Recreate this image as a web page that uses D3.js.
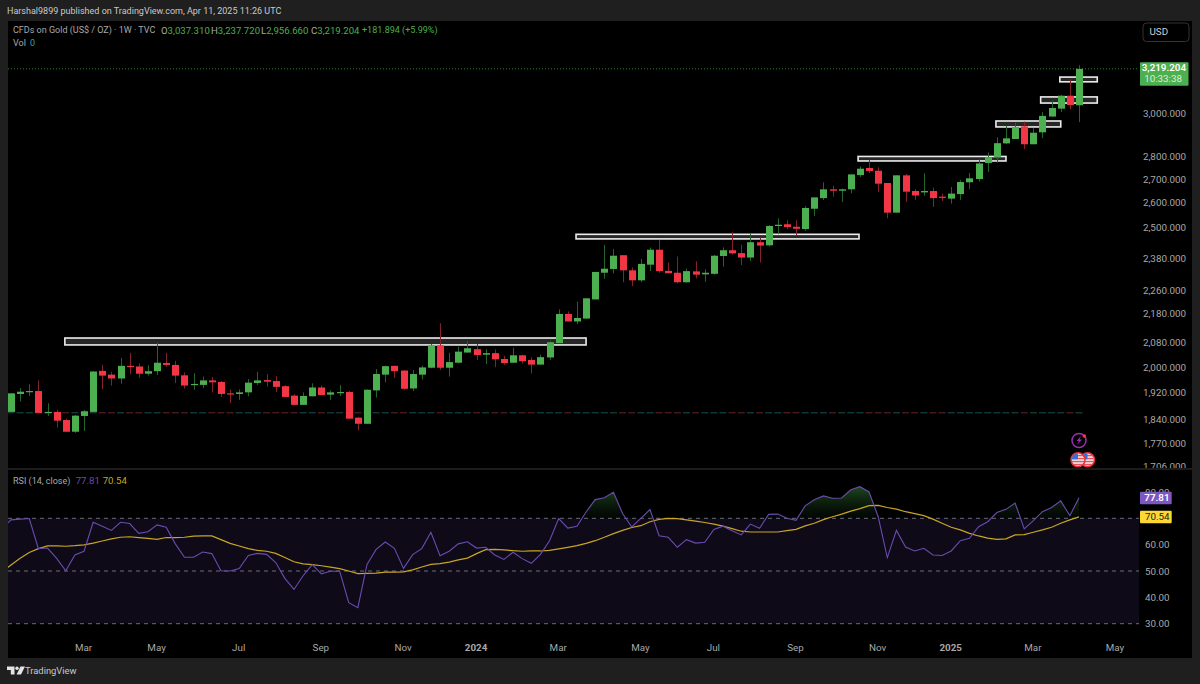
<!DOCTYPE html>
<html><head><meta charset="utf-8">
<script src="https://cdn.jsdelivr.net/npm/d3@7"></script>
<style>
html,body{margin:0;padding:0;background:#1f1f1f;overflow:hidden}
svg{display:block}
text{font-family:Roboto,"Noto Sans",sans-serif}
</style></head><body><div id="chart"></div>
<script>
// ---- data ----
const firstWeek = "2023-01-09";
const opens = [1862,1916,1923,1925,1859,1862,1838,1804,1850,1862,
1988,1976,1964,2004,2002,1979,1987,2013,2007,1974,
1944,1944,1958,1953,1918,1916,1921,1950,1959,1956,
1940,1911,1883,1909,1936,1914,1920,1922,1845,1827,
1927,1976,2004,1989,1933,1976,1998,2071,1998,2014,
2047,2058,2040,2045,2026,2014,2038,2023,2008,2031,
2078,2177,2151,2161,2228,2325,2339,2391,2334,2297,
2355,2412,2332,2325,2290,2330,2319,2321,2388,2410,
2399,2382,2441,2429,2505,2512,2502,2493,2575,2619,
2656,2650,2656,2717,2748,2736,2683,2559,2716,2649,
2643,2649,2625,2617,2636,2686,2700,2770,2796,2858,
2878,2937,2854,2909,2983,3021,3084,3037.31];
const highs = [1918,1934,1946,1958,1888,1868,1842,1853,1868,1987,
2007,1985,2029,2046,2012,2006,2080,2046,2020,1983,
1981,1970,1969,1956,1930,1930,1962,1985,1978,1971,
1943,1915,1921,1949,1942,1927,1944,1925,1847,1930,
1994,2005,2005,1990,1991,2005,2075,2145,2046,2066,
2085,2077,2058,2057,2036,2063,2040,2032,2040,2086,
2193,2186,2220,2232,2328,2431,2415,2391,2345,2377,
2420,2450,2363,2386,2340,2368,2338,2392,2421,2480,
2431,2476,2461,2509,2536,2528,2528,2586,2622,2686,
2671,2659,2720,2755,2786,2751,2683,2716,2722,2657,
2725,2663,2638,2666,2696,2726,2787,2817,2886,2940,
2954,2959,2929,3005,3060,3087,3167,3237.72];
const lows = [1862,1893,1910,1859,1850,1816,1804,1801,1806,1862,
1931,1942,1948,1978,1966,1973,1975,2001,1950,1933,
1929,1934,1921,1907,1889,1898,1909,1944,1939,1922,
1907,1883,1883,1909,1913,1898,1910,1842,1808,1827,
1905,1952,1966,1929,1925,1961,1996,1991,1970,2012,
2047,2023,2010,2000,2007,2014,2012,1980,2008,2023,
2078,2151,2142,2161,2228,2302,2323,2290,2276,2290,
2331,2325,2323,2286,2288,2304,2292,2318,2348,2394,
2354,2369,2363,2424,2473,2493,2469,2486,2545,2611,
2625,2603,2639,2709,2726,2645,2536,2559,2604,2612,
2629,2582,2607,2596,2612,2657,2689,2730,2771,2855,
2878,2832,2854,2882,2983,3005,3017,2956.66];
const closes = [1918,1923,1925,1859,1862,1836,1804,1851,1864,1986,
1973,1964,2004,2000,1979,1987,2014,2007,1973,1942,
1947,1958,1952,1916,1916,1921,1951,1958,1954,1938,
1907,1883,1910,1936,1913,1921,1922,1842,1827,1929,
1978,2003,1987,1932,1978,1999,2071,1998,2016,2050,
2061,2039,2045,2025,2013,2038,2019,2008,2032,2081,
2177,2151,2163,2232,2328,2340,2389,2334,2297,2358,
2412,2331,2323,2290,2331,2318,2325,2389,2410,2398,
2382,2441,2428,2505,2510,2501,2494,2578,2622,2656,
2650,2656,2720,2745,2735,2680,2559,2716,2646,2630,
2649,2619,2621,2638,2687,2703,2768,2796,2859,2881,
2934,2854,2907,2986,3024,3084,3038,3219.204];
const priceTicks = [3000,2800,2700,2600,2500,2380,2260,2180,2080,2000,1920,1840,1770,1706];
// RSI: first value belongs to the week before the first visible candle
const rsiValues = [66.2,69.4,69.7,69.9,58.5,58.7,54.8,50.1,56.1,57.5,68.5,
67.0,65.4,68.5,68.0,64.3,64.9,67.5,66.6,60.3,55.2,
55.2,57.2,56.6,50.1,50.0,50.9,55.9,56.7,56.3,53.2,
47.2,43.0,48.2,52.4,48.9,49.9,50.0,38.0,36.1,52.5,
58.2,61.0,58.6,51.0,56.2,58.5,64.7,55.8,57.5,60.3,
61.1,58.7,59.0,56.1,54.4,57.1,54.7,52.9,56.3,61.5,
69.9,66.3,67.0,72.4,77.1,77.8,79.9,71.8,66.7,70.0,
73.3,63.4,62.8,59.0,61.9,60.6,60.9,65.8,67.0,65.3,
63.7,67.8,66.2,71.5,71.6,70.0,69.2,74.7,77.0,78.5,
77.6,77.7,80.8,82.0,80.0,70.6,55.1,65.4,59.1,57.6,
58.6,56.1,55.9,57.6,61.5,62.4,66.8,68.7,72.2,73.4,
75.8,66.0,69.1,72.5,74.1,76.6,71.0,77.81];
const rsiMa = [49.7,52.3,54.8,57.0,58.5,59.5,59.5,59.4,59.6,59.9,60.6,
61.4,62.2,62.8,63.0,62.7,62.4,62.0,62.7,62.7,62.8,
63.2,63.3,63.3,61.9,60.5,59.5,58.5,57.8,57.5,56.7,
55.1,53.5,52.7,52.4,52.0,51.5,50.9,50.0,49.0,49.1,
49.2,49.6,49.6,49.7,50.4,51.5,52.5,52.8,53.4,54.2,
54.9,56.6,58.1,58.2,58.0,57.7,57.5,57.6,57.6,57.8,
58.4,59.0,59.6,60.5,61.5,62.8,64.2,65.4,66.5,67.2,
68.7,69.6,70.0,69.9,69.4,68.9,68.4,67.8,67.0,66.1,
65.1,64.8,64.8,64.8,64.8,65.3,65.8,67.1,68.1,69.5,
70.6,71.6,72.7,73.7,74.8,74.9,74.1,73.5,72.5,71.8,
71.0,69.7,68.1,66.6,65.6,64.3,63.3,62.5,62.0,62.2,
63.7,63.8,64.7,65.6,66.6,68.1,69.4,70.54];
const rsiTicks = [80,60,50,40,30];
const rsiLevels = [70,50,30];
const timeTickDates = ["2023-03-06","2023-05-01","2023-07-03","2023-09-04","2023-11-06","2024-01-01","2024-03-04","2024-05-06","2024-07-01","2024-09-02","2024-11-04","2024-12-30","2025-03-03","2025-05-05"];
const timeTickLabels = ["Mar","May","Jul","Sep","Nov","2024","Mar","May","Jul","Sep","Nov","2025","Mar","May"];
const zoneFromWeek = [5.9,61.9,92.8,107.9,112.8,114.9];
const zoneToWeek = [63,92.9,109,115,119,119];
const zoneTop = [2095,2472,2799,2962,3078,3177];
const zoneBottom = [2072,2454,2779,2934,3048,3153];

// ---- layout ----
const W=1200,H=684, L=8, PR=1139, R=1192, T=21, SEP=469, B=658;
const svg=d3.select("#chart").append("svg").attr("width",W).attr("height",H);
const defs=svg.append("defs");
svg.append("rect").attr("width",W).attr("height",H).attr("fill","#1f1f1f");
svg.append("rect").attr("x",L).attr("y",T).attr("width",R-L).attr("height",B-T).attr("fill","#000");
svg.append("line").attr("x1",L).attr("x2",R).attr("y1",SEP).attr("y2",SEP).attr("stroke","#262626").attr("stroke-width",1.5);

const week0=new Date(firstWeek+"T00:00:00Z");
const wk=i=>new Date(week0.getTime()+i*7*864e5);
const x=d3.scaleUtc().domain([wk(0),wk(117)]).range([11,1079]);
const y=d3.scaleLog().domain([3000,2000]).range([113,367.1]);
const yR=d3.scaleLinear().domain([70,30]).range([518.3,623.7]);
const yVol=d3.scaleLinear().domain([0,1]).range([412.7,380]);

defs.append("clipPath").attr("id","paneTop").append("rect").attr("x",L).attr("y",T).attr("width",PR-L).attr("height",SEP-T);
defs.append("clipPath").attr("id","paneRsi").append("rect").attr("x",L).attr("y",SEP).attr("width",PR-L).attr("height",B-SEP);
defs.append("clipPath").attr("id","scaleTop").append("rect").attr("x",PR).attr("y",T).attr("width",R-PR).attr("height",SEP-T-1);
defs.append("clipPath").attr("id","above70").append("rect").attr("x",L).attr("y",SEP).attr("width",PR-L).attr("height",yR(70)-SEP);

const UP="#4caf50",DN="#f23645",UPW="#24632a",DNW="#86202d";
const candles=closes.map((c,i)=>({i,o:opens[i],h:highs[i],l:lows[i],c}));
const pane=svg.append("g").attr("clip-path","url(#paneTop)");

// zero-volume bars
pane.append("g").selectAll("rect").data(candles).join("rect")
 .attr("x",d=>x(wk(d.i))-3.5).attr("width",7).attr("y",yVol(0)-.7).attr("height",1.4)
 .attr("fill",d=>d.c>=d.o?"#0f3a37":"#471a20");

// last-price line
pane.append("line").attr("x1",L).attr("x2",PR).attr("y1",y(closes[117])).attr("y2",y(closes[117]))
 .attr("stroke","#2a7a30").attr("stroke-width",1).attr("stroke-dasharray","1 2");

// white zones
const zones=zoneTop.map((t,i)=>({a:zoneFromWeek[i],b:zoneToWeek[i],t,u:zoneBottom[i]}));
pane.append("g").selectAll("rect").data(zones).join("rect")
 .attr("x",d=>x(wk(d.a))).attr("width",d=>x(wk(d.b))-x(wk(d.a)))
 .attr("y",d=>y(d.t)).attr("height",d=>y(d.u)-y(d.t))
 .attr("fill","#272727").attr("stroke","#ececec").attr("stroke-width",1.6);

// candles
const cg=pane.append("g").selectAll("g").data(candles).join("g");
cg.append("line").attr("x1",d=>Math.round(x(wk(d.i)))+.5).attr("x2",d=>Math.round(x(wk(d.i)))+.5)
 .attr("y1",d=>y(d.h)).attr("y2",d=>y(d.l)).attr("stroke",d=>d.c>=d.o?UPW:DNW).attr("stroke-width",1);
cg.append("rect").attr("x",d=>Math.round(x(wk(d.i)))-3).attr("width",7)
 .attr("y",d=>y(Math.max(d.o,d.c))).attr("height",d=>Math.max(1.2,y(Math.min(d.o,d.c))-y(Math.max(d.o,d.c))))
 .attr("fill",d=>d.c>=d.o?UP:DN);

// event icons
const ic=svg.append("g");
ic.append("circle").attr("cx",1079).attr("cy",440.5).attr("r",7).attr("fill","#000").attr("stroke","#9c2fb0").attr("stroke-width",1.5);
ic.append("path").attr("d","M1081 436 L1076.5 441 H1079 L1077 445 L1082 439.6 H1079.5 Z").attr("fill","#9c2fb0");
ic.append("circle").attr("cx",1084.3).attr("cy",436).attr("r",1.8).attr("fill","#f23645");
[1087.5,1078].forEach((cx,k)=>{
  const id="flag"+k, cy=459.8;
  defs.append("clipPath").attr("id",id).append("circle").attr("cx",cx).attr("cy",cy).attr("r",6.5);
  const f=ic.append("g");
  f.append("circle").attr("cx",cx).attr("cy",cy).attr("r",7).attr("fill","#f4f4f4").attr("stroke","#e32c3c").attr("stroke-width",1.5);
  const g=f.append("g").attr("clip-path",`url(#${id})`);
  [-5,-2,1,4].forEach(o=>g.append("rect").attr("x",cx-8).attr("y",cy+o).attr("width",16).attr("height",1.5).attr("fill","#e8505b"));
  g.append("rect").attr("x",cx-8).attr("y",cy-7).attr("width",8).attr("height",6.5).attr("fill","#3d6fd0");
});

// RSI pane
const rp=svg.append("g").attr("clip-path","url(#paneRsi)");
rp.append("rect").attr("x",L).attr("width",PR-L).attr("y",yR(70)).attr("height",yR(30)-yR(70)).attr("fill","#0e0a18");
const grad=defs.append("linearGradient").attr("id","obGrad").attr("gradientUnits","userSpaceOnUse")
 .attr("x1",0).attr("x2",0).attr("y1",yR(84)).attr("y2",yR(70));
grad.append("stop").attr("offset",0).attr("stop-color","#2c6a2e").attr("stop-opacity",.85);
grad.append("stop").attr("offset",1).attr("stop-color","#0e2a10").attr("stop-opacity",.15);
const rx=(d,i)=>x(wk(i-1));
rp.append("path").datum(rsiValues).attr("clip-path","url(#above70)").attr("fill","url(#obGrad)")
 .attr("d",d3.area().x(rx).y0(yR(70)).y1(d=>yR(d)));
rp.append("g").selectAll("line").data(rsiLevels).join("line").attr("x1",L).attr("x2",PR)
 .attr("y1",d=>yR(d)).attr("y2",d=>yR(d)).attr("stroke","#6a6c76").attr("stroke-width",1).attr("stroke-dasharray","4 4");
rp.append("path").datum(rsiMa).attr("fill","none").attr("stroke","#c9a524").attr("stroke-width",1.2)
 .attr("d",d3.line().x(rx).y(d=>yR(d)));
rp.append("path").datum(rsiValues).attr("fill","none").attr("stroke","#6a4cae").attr("stroke-width",1.1)
 .attr("d",d3.line().x(rx).y(d=>yR(d)));

// Axes
const fmt3=d3.format(",.3f");
const AX="#a8a8a8", FS=9.8, LS=9;
const styleAxis=g=>{g.select(".domain").remove();g.selectAll(".tick line").remove();
  g.selectAll("text").attr("fill",AX).attr("font-size",FS).attr("text-anchor","end").attr("x",0);};
const ax1=svg.append("g").attr("clip-path","url(#scaleTop)").append("g").attr("transform","translate(1186,0)")
 .call(d3.axisRight(y).tickValues(priceTicks).tickFormat(fmt3).tickSize(0)).call(styleAxis);
ax1.attr("font-family",null);
svg.append("g").attr("transform","translate(1169.5,0)")
 .call(d3.axisRight(yR).tickValues(rsiTicks).tickFormat(d3.format(".2f")).tickSize(0)).call(styleAxis).attr("font-family",null);
const tx=svg.append("g").attr("transform","translate(-1,641)")
 .call(d3.axisBottom(x).tickValues(timeTickDates.map(d=>new Date(d+"T00:00:00Z"))).tickFormat((d,i)=>timeTickLabels[i]).tickSize(0));
tx.select(".domain").remove();tx.attr("font-family",null);
tx.selectAll("text").attr("fill",AX).attr("font-size",FS).attr("font-weight",(d,i)=>/^20/.test(timeTickLabels[i])?"700":"400");

// Tags
function tag(x0,y0,w,h,fill){svg.append("rect").attr("x",x0).attr("y",y0).attr("width",w).attr("height",h).attr("fill",fill).attr("rx",1);}
function txt(s,xx,yy,fill,size,o={}){return svg.append("text").attr("x",xx).attr("y",yy).attr("fill",fill).attr("font-size",size)
  .attr("dominant-baseline","middle").attr("text-anchor",o.a||"start").attr("font-weight",o.w||400).text(s);}
tag(1140,62.3,48.5,23.4,UP);
txt(fmt3(closes[117]),1186,68.3,"#fff",FS,{a:"end",w:600});
txt("10:33:38",1182,79.6,"#d9efd9",FS,{a:"end"});
tag(1140,491.7,31.7,12.5,"#7e57c2");
txt(rsiValues[118].toFixed(2),1169.5,498,"#fff",FS,{a:"end",w:600});
tag(1140,510.7,31.7,12.5,"#fdd835");
txt(rsiMa[118].toFixed(2),1169.5,517,"#222",FS,{a:"end"});

// USD button
svg.append("rect").attr("x",1143).attr("y",23).attr("width",46).attr("height",18.5).attr("rx",3.5).attr("fill","#000").attr("stroke","#333").attr("stroke-width",1);
txt("USD",1149.5,32.4,"#cfcfcf",FS);

// Header and legends
txt("Harshal9899 published on TradingView.com, Apr 11, 2025 11:26 UTC",7,11.6,"#c9c9c9",LS);
txt("CFDs on Gold (US$ / OZ) · 1W · TVC",13,31,"#a8a8a8",LS);
const G="#4caf50";
[["O",161],["H",211],["L",261],["C",311]].forEach((p,i)=>{
  const v=[opens[117],highs[117],lows[117],closes[117]][i];
  const t=txt(p[0],p[1],31,"#a8a8a8",9.6);
  t.append("tspan").attr("fill",G).text(fmt3(v));
});
txt("+181.894 (+5.99%)",362,31,G,LS);
txt("Vol",13,43.5,"#a8a8a8",LS);
txt("0",30,43.5,"#26a69a",LS);
txt("RSI (14, close)",13,481.3,"#a8a8a8",LS);
txt(rsiValues[118].toFixed(2),75.7,481.3,"#6a4cae",9.6);
txt(rsiMa[118].toFixed(2),102.7,481.3,"#c9a524",9.6);

// Footer logo
const lg=svg.append("g").attr("transform","translate(7,666.5)").attr("fill","#e4e4e4");
lg.append("path").attr("d","M0 0H7.5V8H3.8V3.4H0Z");
lg.append("circle").attr("cx",10).attr("cy",1.7).attr("r",1.7);
lg.append("path").attr("d","M13.5 0H18L14 8H9.6Z");
txt("TradingView",25,671.3,"#c9c9c9",9.4);
</script></body></html>
